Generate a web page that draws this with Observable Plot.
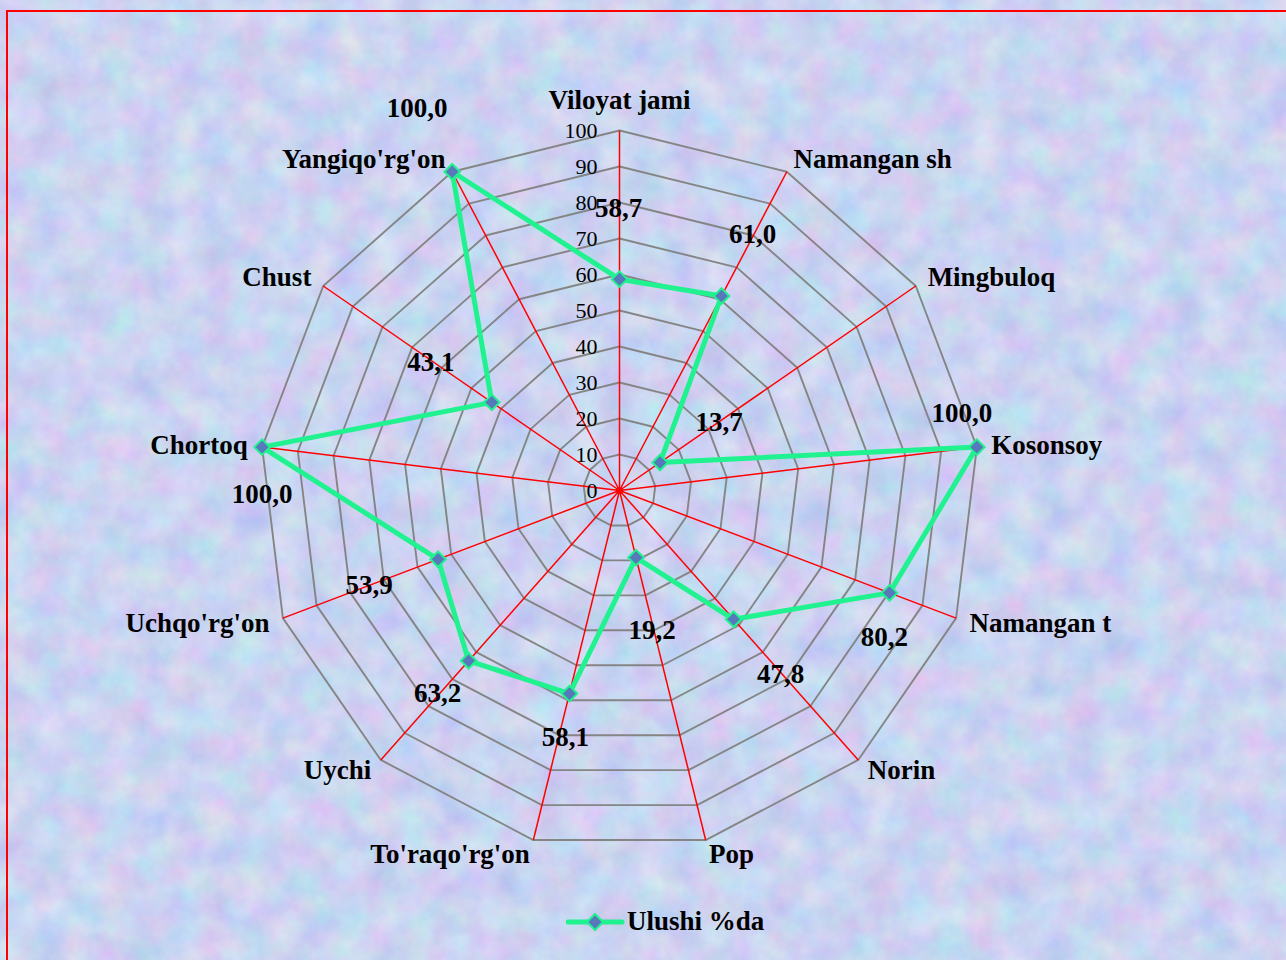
<!DOCTYPE html>
<html><head><meta charset="utf-8">
<script src="https://cdn.jsdelivr.net/npm/d3@7"></script>
<script src="https://cdn.jsdelivr.net/npm/@observablehq/plot@0.6"></script>
<style>
body{margin:0;}
#wrap{position:relative;width:1286px;height:960px;overflow:hidden;background:#cbd4f2;font-family:"Liberation Serif","Times New Roman",serif;}
#bg{position:absolute;left:0;top:0;}
#chart{position:absolute;left:0;top:0;}
#frame{position:absolute;left:6px;top:10px;width:1320px;height:1000px;border-left:2px solid #ff0000;border-top:2px solid #ff0000;}
#legend{position:absolute;left:566px;top:906px;display:flex;align-items:center;font-weight:bold;font-size:27px;color:#000;}
</style></head>
<body>
<div id="wrap">
<svg id="bg" width="1286" height="960">
  <filter id="tex" x="0" y="0" width="100%" height="100%" color-interpolation-filters="sRGB">
    <feTurbulence type="fractalNoise" baseFrequency="0.03" numOctaves="5" seed="7"/>
    <feColorMatrix type="matrix" values="0.24 0 0 0 0.675  0 0.2 0 0 0.73  0 0 0.08 0 0.905  0 0 0 0 1"/>
  </filter>
  <rect width="1286" height="960" filter="url(#tex)"/>
</svg>
<div id="chart"></div>
<div id="frame"></div>
<div id="legend">
  <svg width="60" height="20"><line x1="2" y1="10" x2="56" y2="10" stroke="#1ff28e" stroke-width="5" stroke-linecap="round"/><path d="M29,2 L37,10 L29,18 L21,10 Z" fill="#5878bc" stroke="#1ff28e" stroke-width="2"/></svg>
  <span style="margin-left:1px">Ulushi %da</span>
</div>
</div>
<script>
const categories = ["Viloyat jami","Namangan sh","Mingbuloq","Kosonsoy","Namangan t","Norin","Pop","To'raqo'rg'on","Uychi","Uchqo'rg'on","Chortoq","Chust","Yangiqo'rg'on"];
const values = [58.7, 61.0, 13.7, 100.0, 80.2, 47.8, 19.2, 58.1, 63.2, 53.9, 100.0, 43.1, 100.0];
const ticks = [0, 10, 20, 30, 40, 50, 60, 70, 80, 90, 100];
// pixel nudges of the value labels relative to their points
const labelNudge = [[-1,-71],[31,-62],[59,-40],[-15,-34],[-5,44],[47,55],[16,73],[-4,44],[-31,33],[-69,26],[0,47],[-61,-40],[-35,-63]];

const n = categories.length;
const W = 1286, H = 890, CX = 619, CY = 490, PX = 3.6; // px per unit
const ang = i => i * 2 * Math.PI / n;
const sx = (r, i) => r * Math.sin(ang(i));
const sy = (r, i) => r * Math.cos(ang(i));

const grid = [];
for (const t of ticks.filter(t => t > 0)) for (let i = 0; i <= n; i++) grid.push({t, i: i % n});
const pts = values.map((v, i) => ({v, i, cat: categories[i], lab: v.toFixed(1).replace(".", ","), s: Math.sin(ang(i))}));
const closed = [...pts, pts[0]];

const font = {fontFamily: "Liberation Serif, Times New Roman, serif", fill: "#000"};
const labR = d => Math.abs(d.s) < 0.1 ? 108.5 : 104;
const catText = (filter, anchor) => Plot.text(pts.filter(filter), {
  x: d => sx(labR(d), d.i), y: d => sy(labR(d), d.i),
  text: "cat", fontSize: 27, fontWeight: "bold", textAnchor: anchor, ...font
});
const chart = Plot.plot({
  width: W, height: H, margin: 0,
  style: {background: "transparent", overflow: "visible"},
  x: {domain: [-CX / PX, (W - CX) / PX], axis: null},
  y: {domain: [-(H - CY) / PX, CY / PX], axis: null},
  marks: [
    Plot.line(grid, {x: d => sx(d.t, d.i), y: d => sy(d.t, d.i), z: "t", stroke: "#858585", strokeWidth: 1.9}),
    Plot.link(categories, {x1: () => 0, y1: () => 0, x2: (d, i) => sx(100, i), y2: (d, i) => sy(100, i), stroke: "#ff0000", strokeWidth: 1.5}),
    Plot.dot([0], {x: () => 0, y: () => 0, r: 3.5, fill: "#ff0000"}),
    Plot.text(ticks, {x: () => 0, y: d => d, text: d => String(d), textAnchor: "end", dx: -22, fontSize: 22, ...font}),
    Plot.line(closed, {x: d => sx(d.v, d.i), y: d => sy(d.v, d.i), stroke: "#1ff28e", strokeWidth: 5, strokeLinejoin: "round"}),
    Plot.dot(pts, {x: d => sx(d.v, d.i), y: d => sy(d.v, d.i), symbol: "diamond2", r: 7, fill: "#5878bc", stroke: "#1ff28e", strokeWidth: 2}),
    catText(d => d.s > 0.1, "start"),
    catText(d => d.s < -0.1, "end"),
    catText(d => Math.abs(d.s) <= 0.1, "middle"),
    Plot.text(pts, {
      x: d => sx(d.v, d.i) + labelNudge[d.i][0] / PX,
      y: d => sy(d.v, d.i) - labelNudge[d.i][1] / PX,
      text: "lab", fontSize: 27, fontWeight: "bold", ...font
    })
  ]
});
document.getElementById("chart").appendChild(chart);
</script>
</body></html>
